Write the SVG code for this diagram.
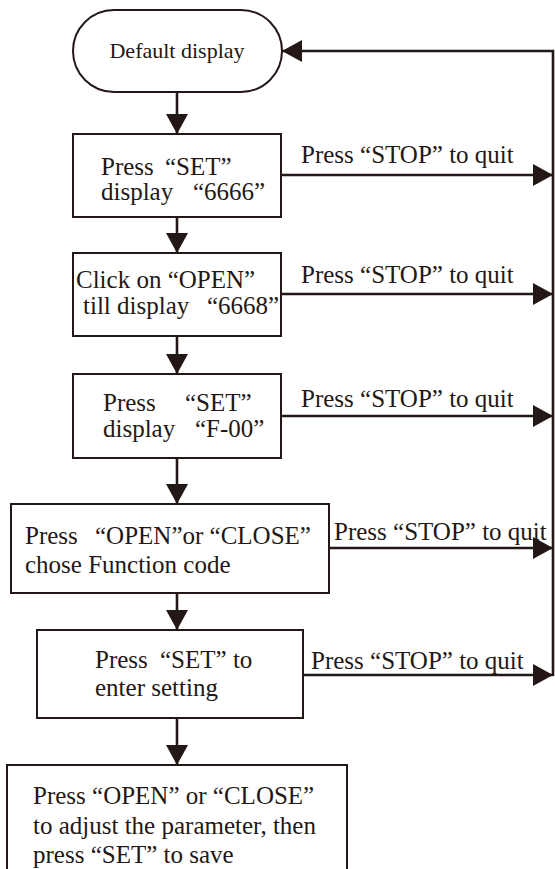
<svg xmlns="http://www.w3.org/2000/svg" width="555" height="869" viewBox="0 0 555 869">
<style>
.box{fill:#fff;stroke:#231815;stroke-width:2}
.con{fill:none;stroke:#231815;stroke-width:2.6}
text{font-family:"Liberation Serif","Times New Roman",serif;font-size:25px;fill:#231815}
.small{font-size:22px}
</style>
<defs>
<marker id="ah" markerUnits="userSpaceOnUse" markerWidth="20" markerHeight="22" refX="20" refY="11" orient="auto" viewBox="0 0 20 22">
<path d="M0,0 L20,11 L0,22 z" fill="#231815"/>
</marker>
</defs>
<rect width="555" height="869" fill="#fff"/>
<g id="connectors">
<line class="con" x1="177" y1="92" x2="177" y2="134" marker-end="url(#ah)"/>
<line class="con" x1="177" y1="217" x2="177" y2="253" marker-end="url(#ah)"/>
<line class="con" x1="177" y1="336" x2="177" y2="374" marker-end="url(#ah)"/>
<line class="con" x1="177" y1="458" x2="177" y2="504" marker-end="url(#ah)"/>
<line class="con" x1="177" y1="593" x2="177" y2="630" marker-end="url(#ah)"/>
<line class="con" x1="177" y1="718" x2="177" y2="765" marker-end="url(#ah)"/>
<line class="con" x1="281" y1="175" x2="553" y2="175" marker-end="url(#ah)"/>
<line class="con" x1="281" y1="294" x2="553" y2="294" marker-end="url(#ah)"/>
<line class="con" x1="281" y1="416" x2="553" y2="416" marker-end="url(#ah)"/>
<line class="con" x1="329" y1="548" x2="553" y2="548" marker-end="url(#ah)"/>
<line class="con" x1="303" y1="675" x2="553" y2="675" marker-end="url(#ah)"/>
<polyline class="con" points="553,676 553,51 282,51" marker-end="url(#ah)"/>
<text x="301" y="163">Press “STOP” to quit</text>
<text x="301" y="283">Press “STOP” to quit</text>
<text x="301" y="407">Press “STOP” to quit</text>
<text x="334" y="540">Press “STOP” to quit</text>
<text x="311" y="669">Press “STOP” to quit</text>
</g>
<g id="start">
<rect class="box" x="73" y="10" width="209" height="82" rx="41" ry="41"/>
<text class="small" x="177" y="58" text-anchor="middle">Default display</text>
</g>
<g id="step1">
<rect class="box" x="73" y="134" width="208" height="83"/>
<text x="101" y="175">Press<tspan x="165">“SET”</tspan></text>
<text x="101" y="200">display<tspan x="193">“6666”</tspan></text>
</g>
<g id="step2">
<rect class="box" x="73" y="253" width="208" height="83"/>
<text x="76" y="288">Click on “OPEN”</text>
<text x="83" y="314">till display<tspan x="207">“6668”</tspan></text>
</g>
<g id="step3">
<rect class="box" x="73" y="374" width="208" height="84"/>
<text x="103" y="411">Press<tspan x="185">“SET”</tspan></text>
<text x="103" y="437">display<tspan x="195">“F-00”</tspan></text>
</g>
<g id="step4">
<rect class="box" x="11" y="504" width="318" height="89"/>
<text x="25" y="544">Press<tspan x="95">“OPEN”or “CLOSE”</tspan></text>
<text x="25" y="573">chose Function code</text>
</g>
<g id="step5">
<rect class="box" x="37" y="630" width="266" height="88"/>
<text x="95" y="668">Press<tspan x="160">“SET” to</tspan></text>
<text x="95" y="696">enter setting</text>
</g>
<g id="step6">
<path class="box" d="M7,875 L7,765 L347,765 L347,875"/>
<text x="33" y="804">Press “OPEN” or “CLOSE”</text>
<text x="33" y="834">to adjust the parameter, then</text>
<text x="33" y="863">press “SET” to save</text>
</g>
</svg>
